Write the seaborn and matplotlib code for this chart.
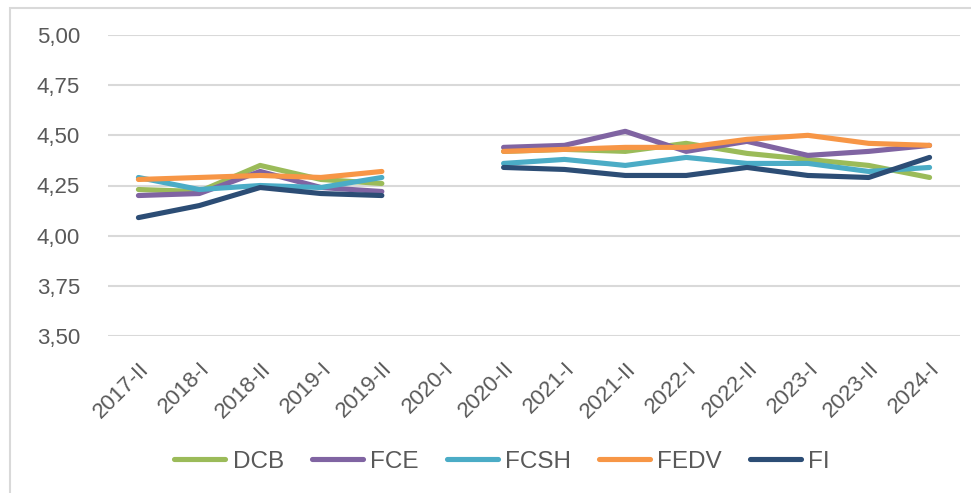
import numpy as np
import pandas as pd
import matplotlib
matplotlib.use("Agg")
import matplotlib.pyplot as plt
import seaborn as sns
from matplotlib.patches import Rectangle

periods = ["2017-II", "2018-I", "2018-II", "2019-I", "2019-II", "2020-I", "2020-II",
           "2021-I", "2021-II", "2022-I", "2022-II", "2023-I", "2023-II", "2024-I"]
nan = np.nan
DCB  = [4.23, 4.22, 4.35, 4.28, 4.26, nan, 4.42, 4.43, 4.42, 4.46, 4.41, 4.38, 4.35, 4.29]
FCE  = [4.20, 4.21, 4.32, 4.24, 4.22, nan, 4.44, 4.45, 4.52, 4.42, 4.47, 4.40, 4.42, 4.45]
FCSH = [4.29, 4.23, 4.25, 4.24, 4.29, nan, 4.36, 4.38, 4.35, 4.39, 4.36, 4.36, 4.32, 4.34]
FEDV = [4.28, 4.29, 4.30, 4.29, 4.32, nan, 4.42, 4.43, 4.44, 4.44, 4.48, 4.50, 4.46, 4.45]
FI   = [4.09, 4.15, 4.24, 4.21, 4.20, nan, 4.34, 4.33, 4.30, 4.30, 4.34, 4.30, 4.29, 4.39]
series_names = ["DCB", "FCE", "FCSH", "FEDV", "FI"]
series_values = [DCB, FCE, FCSH, FEDV, FI]
colors = ["#9BBB59", "#8064A2", "#4BACC6", "#F79646", "#2C4D75"]
yticks = [3.50, 3.75, 4.00, 4.25, 4.50, 4.75, 5.00]

rows = []
for name, vals in zip(series_names, series_values):
    seg = 0
    for i, v in enumerate(vals):
        if np.isnan(v):
            seg += 1
            continue
        rows.append({"pos": i, "val": v, "serie": name, "seg": seg})
df = pd.DataFrame(rows)

sns.set_theme(style="white")
plt.rcParams["font.family"] = ["Liberation Sans", "DejaVu Sans"]

fig = plt.figure(figsize=(9.71, 4.93), dpi=100)
fig.patch.set_facecolor("white")
# screenshot frame
frame = Rectangle((10 / 971, -0.05), 1.2, 1 - 7.5 / 493 + 0.05,
                  transform=fig.transFigure, facecolor="none",
                  edgecolor="#d9d9d9", linewidth=1.5, zorder=-5)
fig.patches.append(frame)

ax = fig.add_axes([108 / 971, 1 - 336 / 493, (960 - 108) / 971, (336 - 35) / 493])
ax.set_facecolor("none")
ax.set_zorder(2)

sns.lineplot(data=df, x="pos", y="val", hue="serie", units="seg", estimator=None,
             hue_order=series_names, palette=colors, linewidth=3.7, ax=ax,
             solid_capstyle="round", solid_joinstyle="round", legend=True)

ax.set_xlim(-0.5, len(periods) - 0.5)
ax.set_ylim(3.5, 5.0)
ax.set_yticks(yticks)
ax.set_yticklabels([f"{t:.2f}".replace(".", ",") for t in yticks])
ax.set_xticks(range(len(periods)))
ax.set_xticklabels(periods, rotation=45, ha="right", va="top", rotation_mode="anchor")
ax.tick_params(axis="y", length=0, pad=20, labelsize=16, labelcolor="#595959")
ax.tick_params(axis="x", length=0, pad=16, labelsize=16, labelcolor="#595959")
ax.grid(axis="y", color="#d9d9d9", linewidth=1.5)
ax.grid(axis="x", visible=False)
for s in ax.spines.values():
    s.set_visible(False)
ax.set_xlabel("")
ax.set_ylabel("")

handles, labels = ax.get_legend_handles_labels()
for h in handles:
    h.set_linewidth(3.7)
    h.set_solid_capstyle("round")
ax.legend(handles, labels, loc="center", bbox_to_anchor=(502 / 971, 1 - 462 / 493),
          bbox_transform=fig.transFigure, ncol=5, frameon=False, fontsize=17.5,
          handlelength=2.1, handletextpad=0.3, columnspacing=1.15,
          labelcolor="#595959")

fig.savefig("out.png", dpi=100)
